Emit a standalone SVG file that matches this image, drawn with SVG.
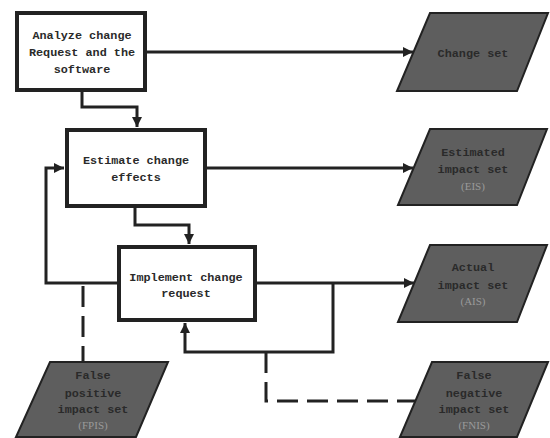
<svg xmlns="http://www.w3.org/2000/svg" width="550" height="438" viewBox="0 0 550 438">
<style>
.box{fill:#ffffff;stroke:#222;stroke-width:4}
.para{fill:#5e5e5e;stroke:#222;stroke-width:2}
.t{font-family:"Liberation Mono","DejaVu Sans Mono",monospace;font-size:11.8px;font-weight:bold;fill:#2a2a2a;text-anchor:middle}
.s{font-family:"Liberation Serif","DejaVu Serif",serif;font-size:11px;fill:#9a9a9a;text-anchor:middle}
.c{fill:none;stroke:#222;stroke-width:3}
.d{fill:none;stroke:#222;stroke-width:3;stroke-dasharray:21 9}
</style>
<defs>
<marker id="arr" markerUnits="userSpaceOnUse" markerWidth="10" markerHeight="10" refX="10" refY="5" orient="auto">
<path d="M0,0 L10,5 L0,10 z" fill="#222"/>
</marker>
</defs>
<g id="connectors">
<path class="c" d="M147,52 H413" marker-end="url(#arr)"/>
<path class="c" d="M82,92 V107 H137 V127" marker-end="url(#arr)"/>
<path class="c" d="M207,168 H413" marker-end="url(#arr)"/>
<path class="c" d="M135,208 V225 H189 V244" marker-end="url(#arr)"/>
<path class="c" d="M117,283 H46 V168 H64" marker-end="url(#arr)"/>
<path class="c" d="M257,283 H414" marker-end="url(#arr)"/>
<path class="c" d="M333,283 V352 H185 V323" marker-end="url(#arr)"/>
<path class="d" d="M83,286 V362"/>
<path class="d" d="M266,352 V401 H415"/>
</g>
<g id="analyze">
<rect class="box" x="17" y="13" width="128" height="77"/>
<text class="t" x="82" y="39">Analyze change</text>
<text class="t" x="82" y="56">Request and the</text>
<text class="t" x="82" y="73">software</text>
</g>
<g id="estimate">
<rect class="box" x="67" y="130" width="138" height="76"/>
<text class="t" x="136" y="164">Estimate change</text>
<text class="t" x="136" y="181">effects</text>
</g>
<g id="implement">
<rect class="box" x="119" y="247" width="136" height="73"/>
<text class="t" x="186" y="281">Implement change</text>
<text class="t" x="186" y="297">request</text>
</g>
<g id="changeset">
<polygon class="para" points="430,13 548,13 517,91 397,91"/>
<text class="t" x="473" y="57">Change set</text>
</g>
<g id="eis">
<polygon class="para" points="430,129 547,129 517,205 398,205"/>
<text class="t" x="473" y="156">Estimated</text>
<text class="t" x="473" y="173">impact set</text>
<text class="s" x="473" y="190">(EIS)</text>
</g>
<g id="ais">
<polygon class="para" points="430,245 547,245 517,322 398,322"/>
<text class="t" x="473" y="271">Actual</text>
<text class="t" x="473" y="289">impact set</text>
<text class="s" x="473" y="305">(AIS)</text>
</g>
<g id="fpis">
<polygon class="para" points="50,362 168,362 136,437 16,437"/>
<text class="t" x="93" y="379">False</text>
<text class="t" x="93" y="397">positive</text>
<text class="t" x="93" y="413">impact set</text>
<text class="s" x="93" y="429">(FPIS)</text>
</g>
<g id="fnis">
<polygon class="para" points="432,362 548,362 517,437 400,437"/>
<text class="t" x="474" y="379">False</text>
<text class="t" x="474" y="397">negative</text>
<text class="t" x="474" y="413">impact set</text>
<text class="s" x="474" y="429">(FNIS)</text>
</g>
</svg>
